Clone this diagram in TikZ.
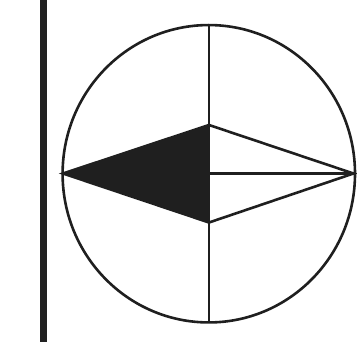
\documentclass[tikz,border=0pt]{standalone}
\begin{document}
\begin{tikzpicture}[x=1pt,y=-1pt,line join=miter,
  stroke/.style={draw=black!88,line width=2.6pt},
  barfill/.style={fill=black!87}]
\useasboundingbox (0,0) rectangle (357,342);
\fill[barfill] (40,0) rectangle (46.5,342);
\coordinate (c) at (209,173.5);
\coordinate (top) at (209,25);
\coordinate (bot) at (209,322.5);
\coordinate (L) at (63,173.5);
\coordinate (R) at (353.5,173.5);
\coordinate (kt) at (209,125);
\coordinate (kb) at (209,222.5);
\fill[black!88] (L) -- (kt) -- (kb) -- cycle;
\draw[stroke] (L) -- (kt) -- (R) -- (kb) -- cycle;
\draw[stroke] (c) -- (R);
\draw[stroke] (top) -- (bot);
\draw[stroke] (208.8,173.75) ellipse [x radius=146.2, y radius=148.7];
\end{tikzpicture}
\end{document}
